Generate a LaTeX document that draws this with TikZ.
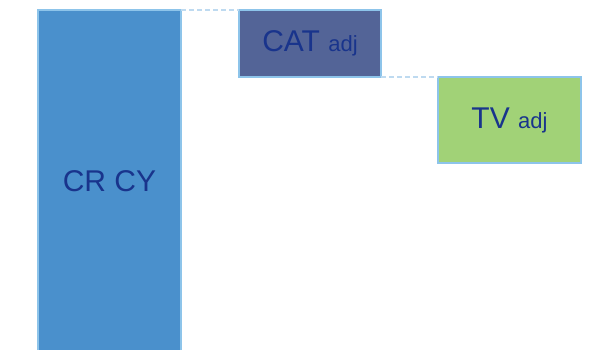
\documentclass[tikz,border=0pt]{standalone}
\usepackage{fontspec}
\setmainfont{Liberation Sans}
\definecolor{edgeblue}{RGB}{141,196,234}
\definecolor{dashblue}{RGB}{190,218,240}
\definecolor{crfill}{RGB}{74,144,204}
\definecolor{catfill}{RGB}{83,100,151}
\definecolor{tvfill}{RGB}{161,210,119}
\definecolor{labelblue}{RGB}{25,52,140}
\tikzset{
  x=1pt, y=-1pt,
  stepbox/.style={draw=edgeblue, line width=1.8pt, rectangle, inner sep=0pt,
    outer sep=0pt, text=labelblue, font=\fontsize{30}{32}\selectfont},
  link/.style={draw=dashblue, line width=1.4pt, dash pattern=on 5pt off 3pt}
}
\newcommand{\adjtext}{{\fontsize{22}{24}\selectfont adj}}
\begin{document}
\begin{tikzpicture}
\useasboundingbox (0,0) rectangle (602,350);
\clip (0,0) rectangle (602,350);
% tall base bar running off the bottom edge
\node[stepbox, fill=crfill, minimum width=143pt, minimum height=342pt, anchor=north west]
  (cr) at (38,10) {CR CY};
% adjustment steps
\node[stepbox, fill=catfill, minimum width=142pt, minimum height=67pt, anchor=north west]
  (cat) at (239,10) {CAT \adjtext};
\node[stepbox, fill=tvfill, minimum width=143pt, minimum height=86pt, anchor=north west]
  (tv) at (438,77) {TV \adjtext};
% dashed level connectors
\draw[link] (cr.north east) -- (cat.north west);
\draw[link] (cat.south east) -- (tv.north west);
\end{tikzpicture}
\end{document}
